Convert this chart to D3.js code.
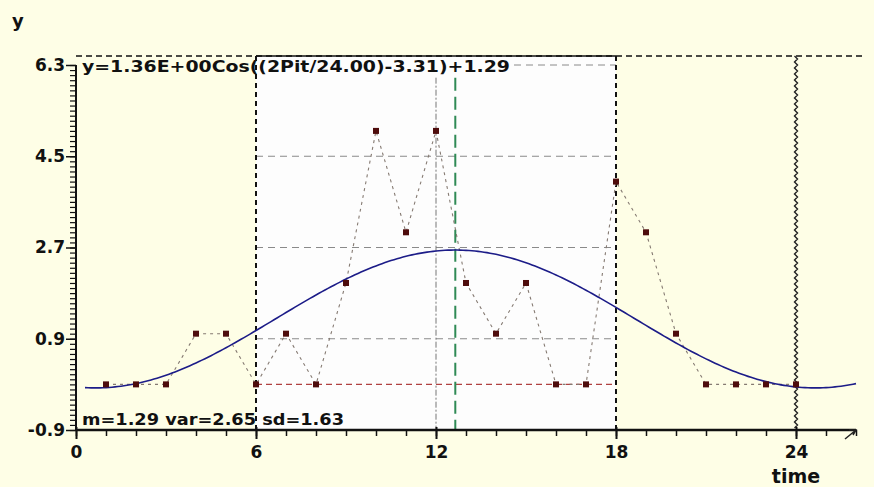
<!DOCTYPE html>
<html>
<head>
<meta charset="utf-8">
<script src="https://cdn.jsdelivr.net/npm/d3@7"></script>
<style>
  html, body { margin: 0; padding: 0; background: #fefee6; }
  svg { display: block; }
  text { font-family: "DejaVu Sans", Verdana, sans-serif; font-weight: bold; fill: #111; }
</style>
</head>
<body>
<svg id="chart" width="874" height="487"></svg>
<script>
// ---- data ----
const times  = [1,2,3,4,5,6,7,8,9,10,11,12,13,14,15,16,17,18,19,20,21,22,23,24];
const values = [0,0,0,1,1,0,1,0,2,5,3,5,2,1,2,0,0,4,3,1,0,0,0,0];
const yTickValues = [-0.9, 0.9, 2.7, 4.5, 6.3];
const xTickValues = [0, 6, 12, 18, 24];
const amplitude = 1.36, period = 24.00, phase = -3.31, mesor = 1.29;
const statsText = "m=1.29 var=2.65 sd=1.63";
const eqText = "y=1.36E+00Cos((2Pit/24.00)-3.31)+1.29";
const windowStart = 6, windowEnd = 18, dayEnd = 24, midMark = 12;

// ---- scales ----
const svg = d3.select("#chart");
const x = d3.scaleLinear().domain([0, 26]).range([76, 856]);
const y = d3.scaleLinear().domain([-0.9, 6.3]).range([430, 65]);
const topY = 56;
const bottomY = y(-0.9);
const fmtY = v => d3.format(".1f")(v).replace("\u2212", "-");

// background
svg.append("rect").attr("x",0).attr("y",0).attr("width",874).attr("height",487).attr("fill","#fefee6");
// white window region
svg.append("rect")
  .attr("x", x(windowStart)).attr("y", topY)
  .attr("width", x(windowEnd) - x(windowStart)).attr("height", bottomY - topY)
  .attr("fill", "#fdfdfd");

// top border: dashed overall, solid over window
svg.append("line").attr("x1", x(0)).attr("x2", 862).attr("y1", topY).attr("y2", topY)
  .attr("stroke", "#111").attr("stroke-width", 1.5).attr("stroke-dasharray", "6,4");
svg.append("line").attr("x1", x(windowStart)).attr("x2", x(windowEnd)).attr("y1", topY).attr("y2", topY)
  .attr("stroke", "#111").attr("stroke-width", 1.5);

// equation text
svg.append("text").attr("x", 82).attr("y", 72).attr("font-size", 16)
  .attr("textLength", 428).attr("lengthAdjust", "spacingAndGlyphs").text(eqText);
const eqEnd = 82 + 428 + 4;

// horizontal grid lines in window
yTickValues.filter(v => v > -0.9).forEach(v => {
  const x1 = v === 6.3 ? Math.max(eqEnd, x(windowStart)) : x(windowStart);
  svg.append("line").attr("x1", x1).attr("x2", x(windowEnd)).attr("y1", y(v)).attr("y2", y(v))
    .attr("stroke", "#8a8a8a").attr("stroke-width", 1).attr("stroke-dasharray", "7,5");
});
// zero baseline in window (red dashed)
svg.append("line").attr("x1", x(windowStart)).attr("x2", x(windowEnd)).attr("y1", y(0)).attr("y2", y(0))
  .attr("stroke", "#b04040").attr("stroke-width", 1.2).attr("stroke-dasharray", "6,4");

// vertical mid line (dash-dot grey)
svg.append("line").attr("x1", x(midMark)).attr("x2", x(midMark)).attr("y1", y(6.05)).attr("y2", bottomY)
  .attr("stroke", "#777").attr("stroke-width", 1).attr("stroke-dasharray", "6,2,2,2");
// acrophase line (green long dash)
const acro = -phase * period / (2 * Math.PI);
svg.append("line").attr("x1", x(acro)).attr("x2", x(acro)).attr("y1", y(6.05)).attr("y2", bottomY)
  .attr("stroke", "#2f8a55").attr("stroke-width", 2).attr("stroke-dasharray", "13,6");

// window boundaries
[windowStart, windowEnd].forEach(t => {
  svg.append("line").attr("x1", x(t)).attr("x2", x(t)).attr("y1", topY).attr("y2", bottomY)
    .attr("stroke", "#111").attr("stroke-width", 2).attr("stroke-dasharray", "5,4");
});
// 24h zigzag line
{
  const pts = [];
  let k = 0;
  for (let yy = topY; yy <= bottomY; yy += 3, k++) pts.push([x(dayEnd) + (k % 2 ? 1.5 : -1.5), yy]);
  svg.append("path").attr("d", d3.line()(pts)).attr("fill", "none")
    .attr("stroke", "#222").attr("stroke-width", 1.4);
}

// data connecting line
svg.append("path")
  .datum(times.map((t, i) => [t, values[i]]))
  .attr("d", d3.line().x(d => x(d[0])).y(d => y(d[1])))
  .attr("fill", "none").attr("stroke", "#857a72").attr("stroke-width", 1.1).attr("stroke-dasharray", "3,4");

// cosinor curve
const curveTs = d3.range(0.3, 26.001, 0.1);
svg.append("path")
  .datum(curveTs.map(t => [t, amplitude * Math.cos(2 * Math.PI * t / period + phase) + mesor]))
  .attr("d", d3.line().x(d => x(d[0])).y(d => y(d[1])))
  .attr("fill", "none").attr("stroke", "#1c1c88").attr("stroke-width", 1.6);

// data points
svg.selectAll("rect.pt").data(times.map((t, i) => [t, values[i]])).enter().append("rect")
  .attr("class", "pt")
  .attr("x", d => x(d[0]) - 3).attr("y", d => y(d[1]) - 3)
  .attr("width", 6).attr("height", 6).attr("fill", "#4e0c0c");

// ---- axes ----
// y axis
const yAxisG = svg.append("g").attr("transform", `translate(${x(0)},0)`);
yAxisG.call(d3.axisLeft(y).tickValues(d3.range(-9, 64).map(v => v / 10)).tickSize(6).tickFormat(""))
  .call(g => g.select(".domain").remove())
  .call(g => g.selectAll(".tick line").attr("stroke", "#111").attr("stroke-width", 1.2));
yAxisG.append("g").call(d3.axisLeft(y).tickValues(yTickValues).tickSize(10).tickPadding(1).tickFormat(fmtY))
  .call(g => g.select(".domain").remove())
  .call(g => g.selectAll(".tick line").attr("stroke", "#111").attr("stroke-width", 1.5))
  .call(g => g.selectAll(".tick text").attr("font-size", 17).attr("font-family", "DejaVu Sans").attr("font-weight", "bold").attr("fill", "#111"));
svg.append("line").attr("x1", x(0)).attr("x2", x(0)).attr("y1", y(6.3)).attr("y2", bottomY)
  .attr("stroke", "#111").attr("stroke-width", 2);

// x axis
const xAxisG = svg.append("g").attr("transform", `translate(0,${bottomY})`);
xAxisG.call(d3.axisBottom(x).tickValues(d3.range(0, 27)).tickSize(6).tickFormat(""))
  .call(g => g.select(".domain").remove())
  .call(g => g.selectAll(".tick line").attr("stroke", "#111").attr("stroke-width", 1.5));
xAxisG.append("g").call(d3.axisBottom(x).tickValues(xTickValues).tickSize(9).tickPadding(7).tickFormat(d3.format("d")))
  .call(g => g.select(".domain").remove())
  .call(g => g.selectAll(".tick line").attr("stroke", "#111").attr("stroke-width", 2).attr("y1", -3))
  .call(g => g.selectAll(".tick text").attr("font-size", 17).attr("font-family", "DejaVu Sans").attr("font-weight", "bold").attr("fill", "#111"));
svg.append("line").attr("x1", x(0)).attr("x2", 856).attr("y1", bottomY).attr("y2", bottomY)
  .attr("stroke", "#111").attr("stroke-width", 2.5);
// arrow tip
svg.append("path").attr("d", `M${845},${bottomY + 9} L${856},${bottomY} M${849},${bottomY} L${856},${bottomY} L${853},${bottomY + 5}`)
  .attr("fill", "none").attr("stroke", "#222").attr("stroke-width", 1.5);

// labels
svg.append("text").attr("x", 12).attr("y", 27).attr("font-size", 18).text("y");
svg.append("text").attr("x", 796).attr("y", 483).attr("text-anchor", "middle").attr("font-size", 19).text("time");
svg.append("text").attr("x", 82).attr("y", 425).attr("font-size", 16)
  .attr("textLength", 262).attr("lengthAdjust", "spacingAndGlyphs").text(statsText);
</script>
</body>
</html>
